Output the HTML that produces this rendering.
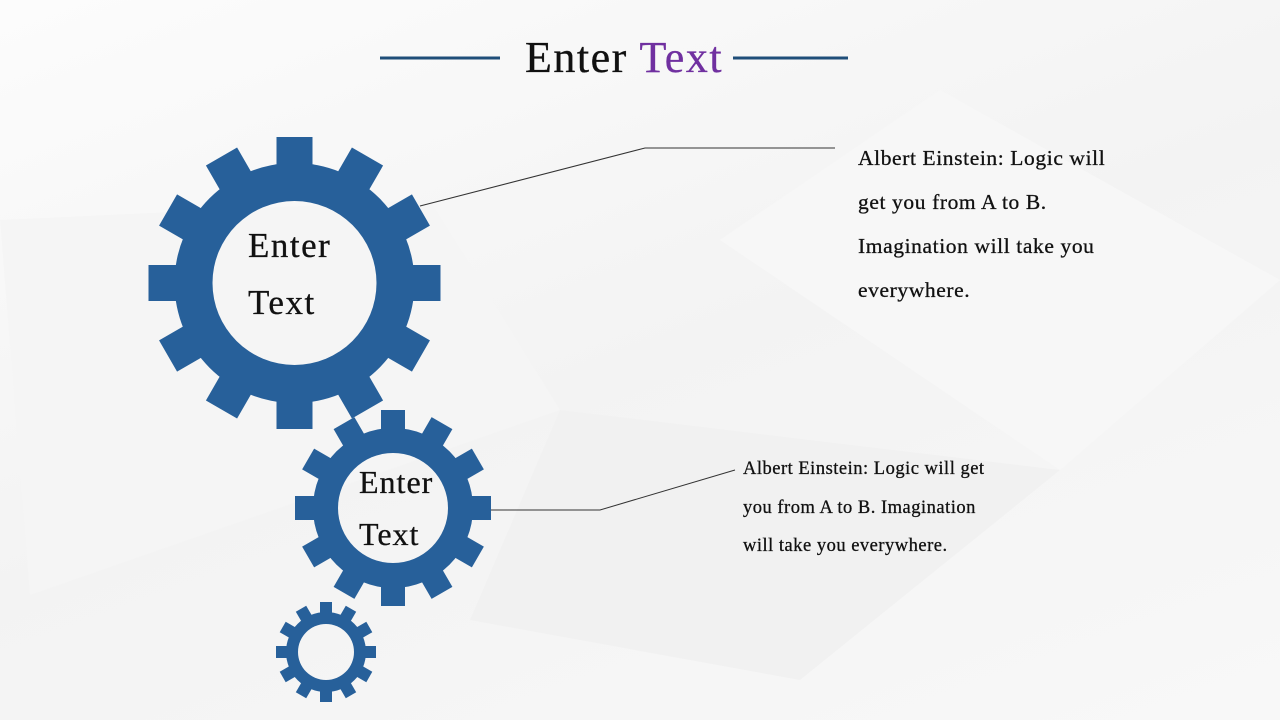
<!DOCTYPE html>
<html><head><meta charset="utf-8"><style>
body{margin:0;width:1280px;height:720px;overflow:hidden;background:linear-gradient(160deg,#fcfcfc,#f3f3f3 50%,#f8f8f8);font-family:"Liberation Serif",serif;position:relative}
.t{position:absolute;white-space:nowrap;color:#111;-webkit-text-stroke:0.3px #111}
</style></head><body>
<svg width="1280" height="720" style="position:absolute;left:0;top:0">
<polygon points="0,220 430,200 560,410 30,595" fill="#f5f5f5"/>
<polygon points="720,240 940,90 1280,280 1060,470" fill="#f7f7f7"/>
<polygon points="560,410 1060,470 800,680 470,620" fill="#f1f1f1"/>
<line x1="380" y1="58" x2="500" y2="58" stroke="#1f4e79" stroke-width="3"/>
<line x1="733" y1="58" x2="848" y2="58" stroke="#1f4e79" stroke-width="3"/>
<polyline points="420,206 645,148 835,148" fill="none" stroke="#333" stroke-width="1"/>
<polyline points="483,510 600,510 735,470" fill="none" stroke="#333" stroke-width="1"/>
<g id="gears"></g>
</svg>
<div class="t" style="left:525px;top:32px;font-size:44px;letter-spacing:1.5px">Enter <span style="color:#7030a0;-webkit-text-stroke:0.3px #7030a0">Text</span></div>
<div class="t" style="left:248px;top:226px;font-size:35px;letter-spacing:1.5px">Enter</div>
<div class="t" style="left:248px;top:283px;font-size:35px;letter-spacing:1.5px">Text</div>
<div class="t" style="left:359px;top:464px;font-size:32px;letter-spacing:1px">Enter</div>
<div class="t" style="left:359px;top:516px;font-size:32px;letter-spacing:1px">Text</div>
<div class="t" style="left:858px;top:136px;font-size:21.5px;letter-spacing:0.6px;line-height:44px">Albert Einstein: Logic will<br>get you from A to B.<br>Imagination will take you<br>everywhere.</div>
<div class="t" style="left:743px;top:450px;font-size:18.5px;letter-spacing:0.5px;line-height:38.5px">Albert Einstein: Logic will get<br>you from A to B. Imagination<br>will take you everywhere.</div>
<script>
var g=document.getElementById('gears');
function gear(cx,cy,tip,body,hole,tw,id){
 var s='<mask id="m'+id+'"><rect width="1280" height="720" fill="black"/><circle cx="'+cx+'" cy="'+cy+'" r="'+body+'" fill="white"/>';
 for(var i=0;i<12;i++){s+='<rect x="'+(cx-tw/2)+'" y="'+(cy-tip)+'" width="'+tw+'" height="'+(tip-body+6)+'" fill="white" transform="rotate('+(i*30)+' '+cx+' '+cy+')"/>';}
 s+='<circle cx="'+cx+'" cy="'+cy+'" r="'+hole+'" fill="black"/></mask>';
 s+='<rect width="1280" height="720" fill="#27609a" mask="url(#m'+id+')"/>';
 return s;
}
g.innerHTML=gear(294.5,283,146,120,82,36,1)+gear(393,508,98,80,55,24,2)+gear(326,652,50,40,28,12,3);
</script>
</body></html>
